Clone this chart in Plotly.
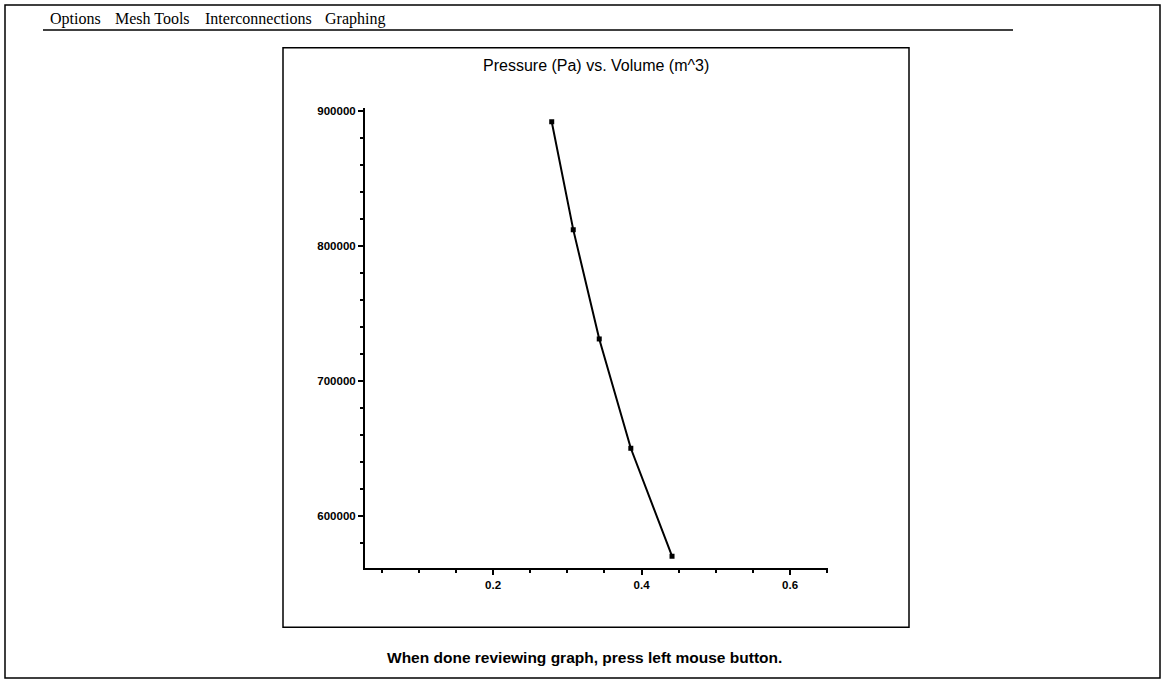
import plotly.graph_objects as go

W, H = 1163, 681

# data
volume = [0.279, 0.308, 0.343, 0.3855, 0.441]
pressure = [892000, 812000, 731000, 650000, 570000]

x_ticks = [0.2, 0.4, 0.6]
x_tick_labels = ["0.2", "0.4", "0.6"]
y_ticks = [600000, 700000, 800000, 900000]
y_tick_labels = ["600000", "700000", "800000", "900000"]

menu_items = ["Options", "Mesh Tools", "Interconnections", "Graphing"]
menu_x = [48, 113, 203, 323]

title_text = "Pressure (Pa) vs. Volume (m^3)"
footer_text = "When done reviewing graph, press left mouse button."


def px(x):
    return x / W


def py(y):
    return 1 - y / H


fig = go.Figure()
fig.add_trace(go.Scatter(
    x=volume, y=pressure, mode="lines+markers",
    line=dict(color="black", width=2),
    marker=dict(symbol="square", size=5, color="black"),
    showlegend=False, hoverinfo="skip",
))

shapes = [
    # outer frame
    dict(type="rect", xref="paper", yref="paper", x0=px(5), x1=px(1160), y0=py(678), y1=py(2),
         line=dict(color="black", width=1.5)),
    # menu underline
    dict(type="line", xref="paper", yref="paper", x0=px(43), x1=px(1013), y0=py(27), y1=py(27),
         line=dict(color="black", width=1.5)),
    # inner panel
    dict(type="rect", xref="paper", yref="paper", x0=px(283), x1=px(909), y0=py(627), y1=py(45),
         line=dict(color="black", width=1.5)),
]

annotations = []
for name, xx in zip(menu_items, menu_x):
    annotations.append(dict(
        text=name, x=px(xx), y=py(16), xref="paper", yref="paper",
        xanchor="left", yanchor="middle", showarrow=False,
        font=dict(family="Liberation Serif", size=16, color="black"),
    ))
annotations.append(dict(
    text=title_text, x=px(596), y=py(63), xref="paper", yref="paper",
    xanchor="center", yanchor="middle", showarrow=False,
    font=dict(family="Liberation Sans", size=16, color="black"),
))
annotations.append(dict(
    text=footer_text, x=px(584), y=py(657), xref="paper", yref="paper",
    xanchor="center", yanchor="middle", showarrow=False,
    font=dict(family="Liberation Sans", size=15.5, color="black", weight="bold"),
))

tickfont = dict(family="Liberation Sans", size=11.5, color="black", weight="bold")

fig.update_layout(
    width=W, height=H,
    margin=dict(l=0, r=0, t=0, b=0),
    paper_bgcolor="white", plot_bgcolor="white",
    shapes=shapes, annotations=annotations,
    xaxis=dict(
        domain=[px(365), px(828)], range=[0.0276, 0.651],
        tickmode="array", tickvals=x_ticks, ticktext=x_tick_labels,
        ticks="outside", ticklen=5, tickwidth=1.5, tickcolor="black",
        minor=dict(dtick=0.05, tick0=0, ticks="outside", ticklen=3, tickwidth=1.5, tickcolor="black"),
        showline=True, linecolor="black", linewidth=2,
        showgrid=False, zeroline=False, tickfont=tickfont,
    ),
    yaxis=dict(
        domain=[py(568), py(105)], range=[560900, 902500],
        tickmode="array", tickvals=y_ticks, ticktext=y_tick_labels,
        ticks="outside", ticklen=5, tickwidth=1.5, tickcolor="black",
        minor=dict(dtick=20000, tick0=0, ticks="outside", ticklen=3, tickwidth=1.5, tickcolor="black"),
        showline=True, linecolor="black", linewidth=2,
        showgrid=False, zeroline=False, tickfont=tickfont,
    ),
)

fig.write_html("out.html", config=dict(displayModeBar=False))
